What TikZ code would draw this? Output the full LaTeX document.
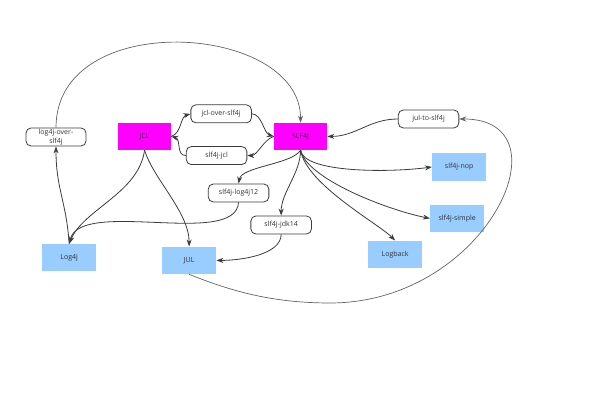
\documentclass[tikz,border=0pt]{standalone}
\usepackage{fontspec}
\setmainfont{Open Sans}
\usepackage{tikz}
\usetikzlibrary{arrows.meta,calc,positioning}
\definecolor{apimag}{RGB}{255,0,255}
\definecolor{implblue}{RGB}{153,204,255}
\definecolor{textgray}{RGB}{51,51,51}
\definecolor{linkgray}{RGB}{60,60,60}
\definecolor{longgray}{RGB}{100,100,100}

\begin{document}
\begin{tikzpicture}[every node/.style={font=\fontsize{7}{8.5}\selectfont,text=textgray},
                    api/.style={fill=apimag,minimum width=1.855cm,minimum height=0.945cm,inner sep=0pt},
                    impl/.style={fill=implblue,minimum width=1.89cm,minimum height=0.96cm,inner sep=0pt},
                    bridge/.style={draw=linkgray,line width=0.8pt,rounded corners=5pt,
                                   minimum width=2.12cm,minimum height=0.63cm,inner sep=1pt,align=center},
                    link/.style={draw=linkgray,line width=0.8pt,-{Stealth[length=7pt,width=5pt]}},
                    longlink/.style={draw=longgray,line width=0.7pt,-{Stealth[length=7pt,width=5pt]}}]

  \useasboundingbox (0,0) rectangle (21,14.245);

  % --- logging APIs -------------------------------------------------------
  \node[api] (jcl)   at (5.06,9.47)  {JCL};
  \node[api] (slf4j) at (10.52,9.47) {SLF4J};

  % --- bridges and bindings -----------------------------------------------
  \node[bridge] (jcl2slf)   at (7.74,10.26) {jcl-over-slf4j};
  \node[bridge] (slf2jcl)   at (7.58,8.80)  {slf4j-jcl};
  \node[bridge] (slf2log4j) at (8.35,7.49)  {slf4j-log4j12};
  \node[bridge] (slf2jdk)   at (9.84,6.37)  {slf4j-jdk14};
  \node[bridge,minimum width=2.1cm] (log4j2slf) at (1.96,9.45) {log4j-over-\\slf4j};
  \node[bridge] (jul2slf)   at (15.00,10.08) {jul-to-slf4j};

  % --- implementations ----------------------------------------------------
  \node[impl] (nop)     at (16.07,8.40) {slf4j-nop};
  \node[impl] (simple)  at (16.00,6.60) {slf4j-simple};
  \node[impl] (logback) at (13.83,5.34) {Logback};
  \node[impl] (log4j)   at (2.42,5.23)  {Log4j};
  \node[impl] (jul)     at (6.62,5.13)  {JUL};

  \coordinate (julbottom) at (11.55,3.64);

  % --- JCL side -----------------------------------------------------------
  \draw[link] (jcl.east) .. controls +(0.35,0.1) and +(-0.35,-0.1) .. (jcl2slf.west);
  \draw[link] (jcl2slf.east) .. controls +(0.35,0) and +(-0.35,0.1) .. (slf4j.west);
  \draw[link] (slf4j.west) .. controls +(-0.35,-0.1) and +(0.35,0) .. (slf2jcl.east);
  \draw[link] (slf2jcl.west) .. controls +(-0.35,0) and +(0.35,-0.1) .. (jcl.east);
  \draw[link] (jcl.south) .. controls +(-0.2,-1.5) and +(0.5,1.2) .. (log4j.north);
  \draw[link] (jcl.south) .. controls +(0.3,-1) and +(0,1.2) .. (jul.north);

  % --- SLF4J bindings -----------------------------------------------------
  \draw[link] (slf4j.south) .. controls +(-0.3,-0.5) and +(0.1,0.6) .. (slf2log4j.north);
  \draw[link] (slf2log4j.south) .. controls +(-0.1,-1.6) and +(0.4,1.6) .. (log4j.north);
  \draw[link] (slf4j.south) .. controls +(0,-0.8) and +(0,0.8) .. (slf2jdk.north);
  \draw[link] (slf2jdk.south) .. controls +(0,-0.7) and +(0.9,0) .. (jul.east);
  \draw[link] (slf4j.south) .. controls +(0.1,-0.8) and +(-1.5,-0.2) .. (nop.west);
  \draw[link] (slf4j.south) .. controls +(0.2,-1) and +(-1.5,0.3) .. (simple.west);
  \draw[link] (slf4j.south) .. controls +(0.2,-1.2) and +(-0.6,0.6) .. (logback.north);

  % --- bridges back into SLF4J --------------------------------------------
  \draw[link] (jul2slf.west) .. controls +(-1,0) and +(1,0) .. (slf4j.east);
  \draw[link] (log4j.north) .. controls +(-0.1,1.5) and +(0,-1.5) .. (log4j2slf.south);
  \draw[longlink] (log4j2slf.north) .. controls +(0,4.2) and +(0,3.5) .. (slf4j.north);
  \draw[longlink] (jul.south) .. controls +(1.5,-0.6) and +(-2,0) .. (julbottom)
      .. controls +(5.5,0) and +(3.9,0) .. (jul2slf.east);
\end{tikzpicture}
\end{document}
